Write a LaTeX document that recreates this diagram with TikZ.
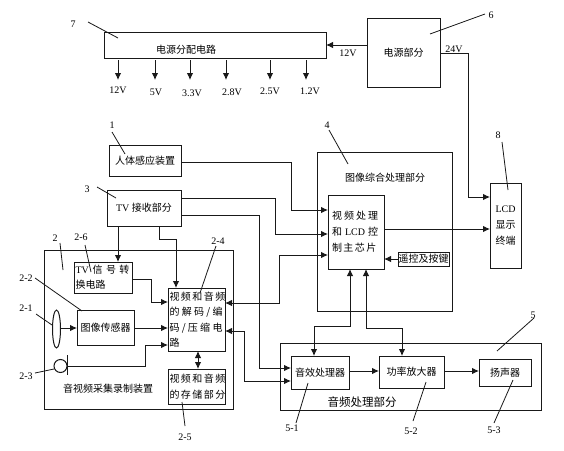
\documentclass[tikz,border=0pt]{standalone}
\usepackage{fontspec}
\usetikzlibrary{arrows.meta,shapes.geometric}
\setmainfont{Liberation Serif}
\newfontfamily\cjk{Noto Sans CJK SC}
\newcommand\mlb[4]{\raisebox{#1}{\parbox[c]{#2}{\fontsize{10}{#3}\selectfont\setlength\parindent{0pt}#4}}}
\newcommand\sline[2]{\makebox[#1][s]{#2}}
\tikzset{
  x=1pt,y=-1pt,
  every node/.style={inner sep=0pt,outer sep=0pt,font=\fontsize{10}{12}\selectfont},
  box/.style={draw=black!90,line width=1pt,rectangle,align=center},
  txt/.style={align=center,font=\fontsize{10}{12}\selectfont\cjk},
  num/.style={font=\fontsize{10}{12}\selectfont},
  conn/.style={draw=black!90,line width=1pt},
  arr/.style={conn,-{Latex[length=7pt,width=6.5pt]}},
  barr/.style={conn,{Latex[length=7pt,width=6.5pt]}-{Latex[length=7pt,width=6.5pt]}},
  leader/.style={draw=black!90,line width=0.8pt},
}
\begin{document}
\begin{tikzpicture}
\useasboundingbox[fill=white] (0,0) rectangle (564,450);
% boxes
\node[box,minimum width=222pt,minimum height=26pt] (b7) at (215,45) {};
\node[txt] (t7) at (186,50) {电源分配电路};
\node[box,minimum width=73pt,minimum height=69pt] (b6) at (403.5,52.5) {\raisebox{-6pt}{\cjk 电源部分}};
\node[box,minimum width=72pt,minimum height=31pt] (b1) at (145,160.5) {\raisebox{-3pt}{\cjk 人体感应装置}};
\node[box,minimum width=74pt,minimum height=36pt] (b3) at (144,208) {\raisebox{-6pt}{TV {\cjk 接收部分}}};
\node[box,minimum width=189pt,minimum height=159pt] (b2) at (138.5,329.5) {};
\node[txt] (t2) at (108,389) {音视频采集录制装置};
\node[box,minimum width=58pt,minimum height=31pt] (b26) at (103,277.5) {\mlb{0pt}{55pt}{15pt}{\sline{54pt}{TV \cjk 信 号 转}\\{\cjk 换电路}}};
\node[box,minimum width=57pt,minimum height=63pt] (b24) at (196.5,319.5) {\mlb{-4pt}{54pt}{15.5pt}{\cjk\sline{53pt}{视 频 和 音 频}\\\sline{53pt}{的 解 码 / 编}\\\sline{53pt}{码 / 压 缩 电}\\路}};
\node[box,minimum width=57pt,minimum height=35pt] (b22) at (105.5,327.5) {\cjk 图像传感器};
\node[box,minimum width=57pt,minimum height=35pt] (b25) at (196.5,386.5) {\mlb{0pt}{54pt}{16pt}{\cjk\sline{53pt}{视 频 和 音 频}\\\sline{50pt}{的 存 储 部 分}}};
\node[box,minimum width=135pt,minimum height=159pt] (b4) at (384.5,231.5) {};
\node[txt] (t4) at (385,178) {图像综合处理部分};
\node[box,minimum width=56pt,minimum height=74pt,fill=white] (chip) at (356,232) {\mlb{-3pt}{48pt}{16pt}{\sline{46pt}{\cjk 视 频 处 理}\\\sline{46pt}{{\cjk 和} LCD {\cjk 控}}\\\sline{40pt}{\cjk 制 主 芯 片}}};
\node[box,minimum width=51pt,minimum height=14pt] (rem) at (423.5,259) {\cjk 遥控及按键};
\node[box,minimum width=31pt,minimum height=85pt,fill=white] (lcd) at (505.5,225.5) {\mlb{3pt}{24pt}{16pt}{\centering LCD\\{\cjk 显示}\\{\cjk 终端}}};
\node[box,minimum width=261pt,minimum height=67pt] (b5) at (410.5,376.5) {};
\node[txt,font=\fontsize{11.5}{13}\selectfont\cjk] (t5) at (362,402) {音频处理部分};
\node[box,minimum width=58pt,minimum height=33pt] (b51) at (320,372.5) {\cjk 音效处理器};
\node[box,minimum width=65pt,minimum height=32pt] (b52) at (411.5,372) {\cjk 功率放大器};
\node[box,minimum width=52pt,minimum height=27pt] (b53) at (505,372.5) {\cjk 扬声器};
% lens and microphone
\node[conn,draw,ellipse,minimum width=8pt,minimum height=38pt] (lens) at (56.5,329) {};
\node[conn,draw,circle,minimum size=13pt] (mic) at (60.5,366) {};
\coordinate (mict) at (67.5,355);
\coordinate (micb) at (67.5,375);
\draw[conn] (mict) -- (micb);
% power rails
\foreach \n/\x in {a/118,b/155,c/190,d/226,e/270,f/306}{
  \coordinate (p\n) at (\x,80);
  \draw[arr] (b7.south -| \x,0) ++(0,2) -- (p\n);
}
\node[num] (v1) at (118,90) {12V};
\node[num] (v2) at (156,92) {5V};
\node[num] (v3) at (192,93) {3.3V};
\node[num] (v4) at (232,92) {2.8V};
\node[num] (v5) at (270,91) {2.5V};
\node[num] (v6) at (310,91) {1.2V};
\node[num] (v12) at (348,53) {12V};
\node[num] (v24) at (454,49) {24V};
% connectors
\draw[arr] (b6.west |- 0,45) -- (b7.east |- 0,45);
\draw[arr] (b6.east |- 0,53) -| (468,197) -- (lcd.west |- 0,197);
\draw[arr] (b1.east |- 0,162) -| (291,210) -- (chip.west |- 0,210);
\draw[arr] (b3.east |- 0,198) -| (275,234) -- (chip.west |- 0,234);
\draw[barr] (b24.east |- 0,303) -| (279,255) -- (chip.west |- 0,255);
\draw[arr] (b3.east |- 0,215) -| (259,368) -- (b51.west |- 0,368);
\draw[barr] (b24.east |- 0,331) -| (244,381) -- (b51.west |- 0,381);
\draw[arr] (b3.south -| 118,0) -- (b26.north -| 118,0);
\draw[arr] (b3.south -| 159,0) |- (176,239) -- (b24.north -| 176,0);
\draw[arr] (b26.east |- 0,279) -| (151,302) -- (b24.west |- 0,302);
\draw[arr] (lens.east |- 0,328) -- (b22.west |- 0,328);
\draw[arr] (b22.east |- 0,328) -- (b24.west |- 0,328);
\draw[arr] (micb |- mic.east) -| (145,345) -- (b24.west |- 0,345);
\draw[barr] (b24.south -| 198,0) -- (b25.north -| 198,0);
\draw[arr] (chip.east |- 0,229) -- (lcd.west |- 0,229);
\draw[arr] (rem.west |- 0,259) -- (chip.east |- 0,259);
\draw[barr] (chip.south -| 350,0) |- (314,326) -- (b51.north -| 314,0);
\draw[barr] (chip.south -| 366,0) |- (402,328) -- (b52.north -| 402,0);
\draw[arr] (b51.east |- 0,371) -- (b52.west |- 0,371);
\draw[arr] (b52.east |- 0,371) -- (b53.west |- 0,371);
% reference numbers and leaders
\foreach \n/\t/\lx/\ly/\ax/\ay/\bx/\by in {
  l7/7/73/24/88/22/118/38,
  l6/6/491/15/485/14/430/34,
  l1/1/112/125/112/132/125/154,
  l3/3/87/189/97/187/116/198,
  l2/2/55/238/60/243/63/270,
  l26/2-6/81/237/85/245/91/272,
  l24/2-4/218/241/216/246/200/293,
  l22/2-2/26/278/35/278/82/311,
  l21/2-1/26/308/36/314/52/325,
  l23/2-3/26/376/35/373/54/369,
  l25/2-5/185/437/185/426/182/402,
  l4/4/327/125/329/130/348/164,
  l8/8/498/135/502/142/508/190,
  l5/5/533/315/534/318/497/351,
  l51/5-1/292/428/296/423/308/383,
  l52/5-2/411/431/413/421/426/382,
  l53/5-3/494/430/494/423/513/380}{
  \node[num] (\n) at (\lx,\ly) {\t};
  \coordinate (\n a) at (\ax,\ay);
  \coordinate (\n b) at (\bx,\by);
  \draw[leader] (\n a) -- (\n b);
}
\end{tikzpicture}
\end{document}
